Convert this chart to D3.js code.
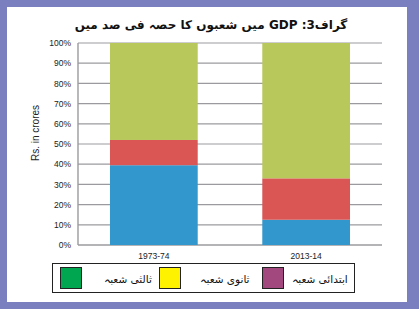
<!DOCTYPE html>
<html>
<head>
<meta charset="utf-8">
<script src="https://cdn.jsdelivr.net/npm/d3@7"></script>
<style>
  body { margin: 0; background: #7a7fc0; }
  svg { display: block; }
</style>
</head>
<body>
<svg id="chart" width="419" height="309"></svg>
<script>
// data
var years = ["1973-74", "2013-14"];
var primary = [39.5, 12.5];
var secondary = [12.5, 20.5];
var tertiary = [48, 67];
var yTicks = [0, 10, 20, 30, 40, 50, 60, 70, 80, 90, 100];
var legendNames = ["ثالثی شعبہ", "ثانوی شعبہ", "ابتدائی شعبہ"];
var legendColors = ["#00a650", "#fff200", "#a3477f"];

var barColors = ["#3197cc", "#da5654", "#b8c85a"];
var seriesKeys = ["primary", "secondary", "tertiary"];

var rows = years.map(function(y, i){
    return {year: y, primary: primary[i], secondary: secondary[i], tertiary: tertiary[i]};
});

var svg = d3.select("#chart");

// white panel
svg.append("rect")
    .attr("x", 7).attr("y", 7)
    .attr("width", 400).attr("height", 295)
    .attr("fill", "#fff");

var margin = {left: 78, right: 37, top: 43, bottom: 64};
var width = 419 - margin.left - margin.right,
    height = 309 - margin.top - margin.bottom;

var g = svg.append("g").attr("transform", "translate(" + margin.left + "," + margin.top + ")");

var x = d3.scaleBand().domain(years).range([0, width]).paddingInner(0.424).paddingOuter(0.21);
var y = d3.scaleLinear().domain([0, 100]).range([height, 0]);

// gridlines
g.selectAll(".grid")
    .data(yTicks)
    .enter().append("line")
    .attr("x1", 0).attr("x2", width)
    .attr("y1", function(d){ return y(d); })
    .attr("y2", function(d){ return y(d); })
    .attr("stroke", "#9b9b9f")
    .attr("stroke-width", function(d){ return d == 0 ? 1.6 : 1.2; });

var stack = d3.stack().keys(seriesKeys)(rows);

g.selectAll(".series")
    .data(stack)
    .enter().append("g")
    .attr("fill", function(d, i){ return barColors[i]; })
    .selectAll("rect")
    .data(function(d){ return d; })
    .enter().append("rect")
    .attr("x", function(d){ return x(d.data.year); })
    .attr("width", x.bandwidth())
    .attr("y", function(d){ return y(d[1]); })
    .attr("height", function(d){ return y(d[0]) - y(d[1]); });

// y axis line
g.append("line")
    .attr("x1", 0).attr("x2", 0)
    .attr("y1", 0).attr("y2", height)
    .attr("stroke", "#9b9b9f").attr("stroke-width", 1.4);

var yAxis = d3.axisLeft(y).tickValues(yTicks).tickSize(0).tickPadding(7)
    .tickFormat(function(d){ return d + "%"; });
g.append("g").call(yAxis)
    .call(function(a){ a.select(".domain").remove(); })
    .selectAll("text")
    .attr("font-family", "Liberation Sans, Arial, sans-serif")
    .attr("font-size", 8.5)
    .attr("fill", "#222");

var xAxis = d3.axisBottom(x).tickSize(0).tickPadding(8);
g.append("g").attr("transform", "translate(0," + height + ")").call(xAxis)
    .call(function(a){ a.select(".domain").remove(); })
    .selectAll("text")
    .attr("font-family", "Liberation Sans, Arial, sans-serif")
    .attr("font-size", 8.5)
    .attr("fill", "#222");

// y label
svg.append("text")
    .attr("transform", "translate(39,133) rotate(-90)")
    .attr("text-anchor", "middle")
    .attr("font-family", "Liberation Sans, Arial, sans-serif")
    .attr("font-size", 10)
    .attr("fill", "#222")
    .text("Rs. in crores");

// title (right-to-left)
svg.append("text")
    .attr("x", 211).attr("y", 29)
    .attr("text-anchor", "middle")
    .attr("direction", "rtl")
    .style("direction", "rtl")
    .attr("font-family", "DejaVu Sans, sans-serif")
    .attr("font-size", 12)
    .attr("font-weight", "bold")
    .attr("fill", "#111")
    .text("گراف3: GDP میں شعبوں کا حصہ فی صد میں");

// legend
svg.append("rect")
    .attr("x", 52.5).attr("y", 263.5)
    .attr("width", 302).attr("height", 29)
    .attr("fill", "none").attr("stroke", "#222").attr("stroke-width", 1);

var legendX = [60, 159, 262];
var legendTextX = [128, 225, 320];
legendNames.forEach(function(name, i){
    svg.append("rect")
        .attr("x", legendX[i] + 0.5).attr("y", 267.5)
        .attr("width", 21).attr("height", 21)
        .attr("fill", legendColors[i])
        .attr("stroke", "#222").attr("stroke-width", 1);
    svg.append("text")
        .attr("x", legendTextX[i]).attr("y", 283)
        .attr("text-anchor", "middle")
        .attr("direction", "rtl")
        .style("direction", "rtl")
        .attr("font-family", "DejaVu Sans, sans-serif")
        .attr("font-size", 10.5)
        .attr("fill", "#111")
        .text(name);
});
</script>
</body>
</html>
